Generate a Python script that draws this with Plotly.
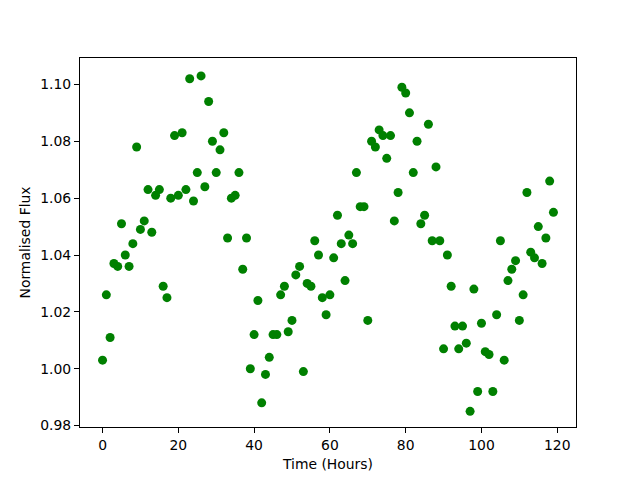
import plotly.graph_objects as go

hours = list(range(120))
flux = [
    1.003, 1.026, 1.011, 1.037, 1.036, 1.051, 1.040, 1.036, 1.044, 1.078,
    1.049, 1.052, 1.063, 1.048, 1.061, 1.063, 1.029, 1.025, 1.060, 1.082,
    1.061, 1.083, 1.063, 1.102, 1.059, 1.069, 1.103, 1.064, 1.094, 1.080,
    1.069, 1.077, 1.083, 1.046, 1.060, 1.061, 1.069, 1.035, 1.046, 1.000,
    1.012, 1.024, 0.988, 0.998, 1.004, 1.012, 1.012, 1.026, 1.029, 1.013,
    1.017, 1.033, 1.036, 0.999, 1.030, 1.029, 1.045, 1.040, 1.025, 1.019,
    1.026, 1.039, 1.054, 1.044, 1.031, 1.047, 1.044, 1.069, 1.057, 1.057,
    1.017, 1.080, 1.078, 1.084, 1.082, 1.074, 1.082, 1.052, 1.062, 1.099,
    1.097, 1.090, 1.069, 1.080, 1.051, 1.054, 1.086, 1.045, 1.071, 1.045,
    1.007, 1.040, 1.029, 1.015, 1.007, 1.015, 1.009, 0.985, 1.028, 0.992,
    1.016, 1.006, 1.005, 0.992, 1.019, 1.045, 1.003, 1.031, 1.035, 1.038,
    1.017, 1.026, 1.062, 1.041, 1.039, 1.050, 1.037, 1.046, 1.066, 1.055,
]

x_label = "Time (Hours)"
y_label = "Normalised Flux"

fig = go.Figure()
fig.add_trace(go.Scatter(
    x=hours, y=flux, mode="markers",
    marker=dict(color="#008000", size=9, line=dict(width=0)),
    showlegend=False,
))

font = dict(family="DejaVu Sans", size=13.9, color="black")
axis_common = dict(
    showline=True, mirror=True, linecolor="black", linewidth=1,
    ticks="outside", ticklen=5, tickwidth=1, tickcolor="black",
    showgrid=False, zeroline=False, tickfont=font,
)

# page body has an 8px margin, so the figure is offset by 8px
fig.update_layout(
    width=632, height=472,
    margin=dict(l=72, r=64, t=50, b=53, autoexpand=False),
    paper_bgcolor="white", plot_bgcolor="white",
    font=font,
    xaxis=dict(range=[-5.95, 124.95], tick0=0, dtick=20,
               title=dict(text=x_label, font=font, standoff=7), **axis_common),
    yaxis=dict(range=[0.9795, 1.1093], tick0=0.98, dtick=0.02, tickformat=".2f",
               title=dict(text=y_label, font=font, standoff=6), **axis_common),
)

fig.write_html("out.html")
